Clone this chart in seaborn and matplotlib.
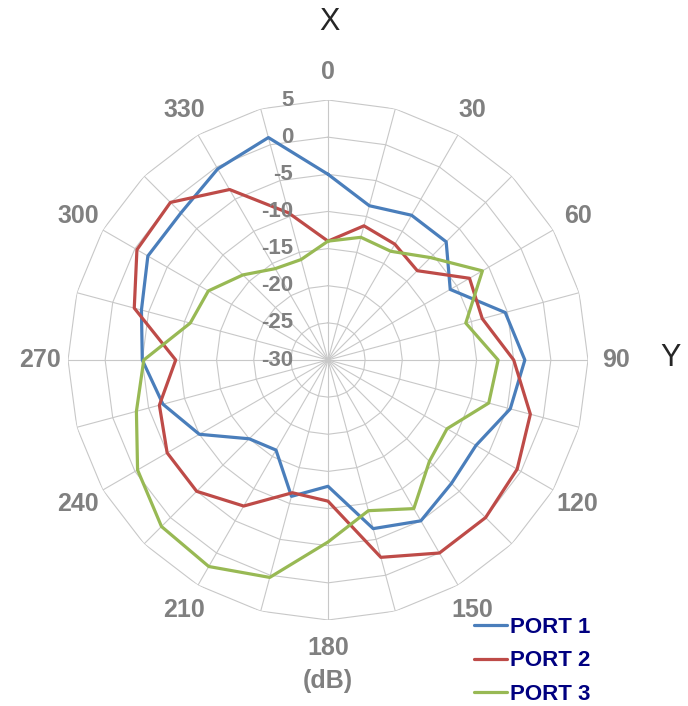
import numpy as np
import pandas as pd
import matplotlib
matplotlib.use("Agg")
import matplotlib.pyplot as plt
import seaborn as sns

# --- datos (dB) cada 15 grados, 0..345 ---
angulos = list(range(0, 360, 15))
port1 = [-5, -8.5, -7.5, -7.5, -11, -5.3, -3.5, -4.6, -7, -6.5, -5, -6.5,
         -13, -11, -16, -15, -10, -7, -5, -4, -2, -2, -0.3, 1]
port2 = [-14, -11.3, -12, -13, -8, -8.5, -5, -1.8, -0.6, 0, 0, -2.5,
         -11, -11.5, -7.3, -5, -5, -6.5, -9.5, -3, -0.3, 0, -3.5, -9.5]
port3 = [-14, -12.9, -13.1, -10.5, -6, -10.8, -7.1, -7.6, -11.5, -10.7, -6.9, -9,
         -5.5, 0.3, 2.1, 1.7, -0.4, -3.3, -5.2, -10.8, -11.4, -13.8, -15.8, -16]
series = ["PORT 1", "PORT 2", "PORT 3"]
colores = ["#4A7EBB", "#BE4B48", "#98B954"]
niveles = [5, 0, -5, -10, -15, -20, -25, -30]
etiquetas_ang = [str(a) for a in range(0, 360, 30)]

sns.set_style("white")
plt.rcParams["font.family"] = ["Liberation Sans", "DejaVu Sans"]

fig = plt.figure(figsize=(6.88, 7.06), dpi=100)
ax = fig.add_axes([68 / 688, 86 / 706, 520 / 688, 520 / 706], projection="polar")
ax.set_theta_zero_location("N")
ax.set_theta_direction(-1)
ax.set_ylim(-30, 5)

theta = np.deg2rad(angulos + [360])

# rejilla poligonal (estilo Excel)
for r in niveles[:-1]:
    ax.plot(theta, [r] * len(theta), color="#c8c8c8", lw=0.8, zorder=1)
ax.set_xticks(np.deg2rad(angulos))
ax.set_xticklabels([])
ax.set_yticks([])
ax.xaxis.grid(True, color="#c8c8c8", lw=0.8)
ax.yaxis.grid(False)
ax.spines["polar"].set_visible(False)

# series
df = pd.DataFrame({
    "theta": np.tile(theta, 3),
    "dB": port1 + [port1[0]] + port2 + [port2[0]] + port3 + [port3[0]],
    "serie": np.repeat(series, len(theta)),
})
sns.lineplot(data=df, x="theta", y="dB", hue="serie", palette=colores,
             sort=False, estimator=None, lw=2.3, ax=ax, zorder=3)
ax.set_xlabel("")
ax.set_ylabel("")

# etiquetas de angulo
for i, lab in enumerate(etiquetas_ang):
    ax.text(np.deg2rad(i * 30), 8.8, lab, ha="center", va="center",
            fontsize=18, fontweight="bold", color="#808080", clip_on=False)

# etiquetas radiales
for v in niveles:
    ax.annotate(str(v), xy=(0, v), xytext=(-25, 0), textcoords="offset points",
                ha="right", va="center", fontsize=16, fontweight="bold",
                color="#808080")

fig.text(329 / 688, 1 - 22 / 706, "X", ha="center", va="center", fontsize=22)
fig.text(671 / 688, 1 - 358 / 706, "Y", ha="center", va="center", fontsize=22)
fig.text(328 / 688, 1 - 681 / 706, "(dB)", ha="center", va="center",
         fontsize=18, fontweight="bold", color="#808080")

leg = ax.legend(loc="upper left", bbox_to_anchor=(463 / 688, 1 - 606 / 706),
                bbox_transform=fig.transFigure, frameon=False, fontsize=16,
                handlelength=1.5, handletextpad=0.1, labelspacing=0.55,
                borderpad=0, labelcolor="#000080")
for t in leg.get_texts():
    t.set_fontweight("bold")

fig.savefig("out.png", dpi=100)
